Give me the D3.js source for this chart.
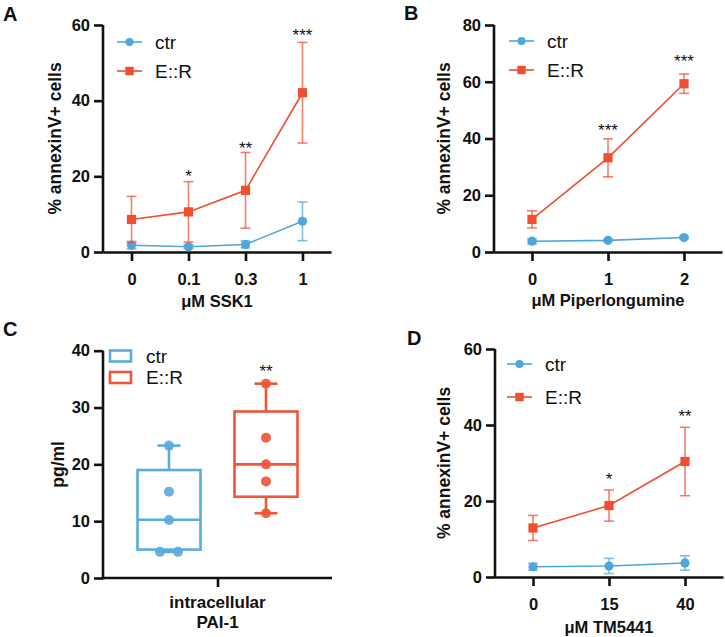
<!DOCTYPE html>
<html><head><meta charset="utf-8">
<script src="https://cdn.jsdelivr.net/npm/d3@7"></script>
<style>
body{margin:0;background:#fff;}
svg{display:block;font-family:"Liberation Sans",Arial,sans-serif;}
</style></head><body>
<svg id="chart" width="725" height="637"></svg>
<script>
// ---------- DATA ----------
const seriesNames = ["ctr", "E::R"];

// Panel A: SSK1
const catsA = ["0", "0.1", "0.3", "1"];
const ctrA = [1.8, 1.4, 2.0, 8.1];
const ctrErrA = [1.0, 0.5, 0.9, 5.1];
const erA = [8.6, 10.6, 16.3, 42.1];
const erErrA = [6.1, 8.0, 10.0, 13.3];
const starsA = ["", "*", "**", "***"];
const starYA = [0, 21.1, 28.5, 58.2];
const ticksA = [0, 20, 40, 60];

// Panel B: Piperlongumine
const catsB = ["0", "1", "2"];
const ctrB = [3.8, 4.1, 5.1];
const ctrErrB = [0.9, 0.4, 0.4];
const erB = [11.5, 33.2, 59.3];
const erErrB = [3.0, 6.7, 3.4];
const starsB = ["", "***", "***"];
const starYB = [0, 44.1, 68.4];
const ticksB = [0, 20, 40, 60, 80];

// Panel C: intracellular PAI-1 (box plots)
const groupC = ["intracellular", "PAI-1"];
const boxCtrC = {min: 4.6, q1: 5.0, median: 10.25, q3: 19.0, max: 23.3};
const boxErC = {min: 11.4, q1: 14.3, median: 20.0, q3: 29.3, max: 34.2};
const pointsCtrC = [23.3, 15.2, 10.2, 4.6, 4.6];
const pointsCtrOffsetC = [0, 0, 0, -0.45, 0.45];
const pointsErC = [34.2, 24.7, 20.0, 17.0, 11.4];
const starC = "**";
const starYC = 37.1;
const ticksC = [0, 10, 20, 30, 40];

// Panel D: TM5441
const catsD = ["0", "15", "40"];
const ctrD = [2.7, 2.9, 3.7];
const ctrErrD = [0.9, 2.0, 1.9];
const erD = [12.9, 18.8, 30.4];
const erErrD = [3.3, 4.1, 9.0];
const starsD = ["", "*", "**"];
const starYD = [0, 26.8, 43.4];
const ticksD = [0, 20, 40, 60];

// ---------- STYLE ----------
const BLUE = "#4fa6d8";
const RED = "#ef4e30";
const BLUE_BOX = "#5aacdb";
const RED_BOX = "#f0553a";

const svg = d3.select("#chart");

function styleAxis(g) {
  g.selectAll("path.domain").attr("stroke", "#111").attr("stroke-width", 2.6);
  g.selectAll(".tick line").attr("stroke", "#111").attr("stroke-width", 2.6);
  g.selectAll(".tick text").attr("fill", "#111").attr("font-size", 16.5)
    .attr("font-weight", "bold").attr("font-family", "Liberation Sans, Arial, sans-serif");
}

function letter(t, x, y) {
  svg.append("text").attr("x", x).attr("y", y).text(t)
    .attr("font-size", 20).attr("font-weight", "bold").attr("fill", "#111");
}

function yLabel(t, x, y) {
  svg.append("text").attr("transform", `translate(${x},${y}) rotate(-90)`)
    .attr("text-anchor", "middle").attr("dominant-baseline", "central")
    .attr("font-size", 17.5).attr("font-weight", "bold").attr("fill", "#111").text(t);
}

function linePanel(cfg) {
  const x = d3.scalePoint().domain(cfg.cats).range([cfg.x0, cfg.x1]).padding(0.5);
  const y = d3.scaleLinear().domain([0, cfg.ymax]).range([cfg.y0, cfg.y1]);
  const g = svg.append("g");

  // axes
  const ax = g.append("g").attr("transform", `translate(0,${cfg.y0})`)
    .call(d3.axisBottom(x).tickSize(9).tickSizeOuter(0).tickPadding(12));
  styleAxis(ax);
  const ay = g.append("g").attr("transform", `translate(${cfg.x0},0)`)
    .call(d3.axisLeft(y).tickValues(cfg.ticks).tickSize(9).tickSizeOuter(0).tickPadding(4));
  styleAxis(ay);
  ay.select("path.domain").attr("d", `M0,${cfg.y0 + 1.3}V${cfg.y1}`);

  const series = [
    {name: seriesNames[0], vals: cfg.ctr, errs: cfg.ctrErr, color: BLUE, shape: "circle"},
    {name: seriesNames[1], vals: cfg.er, errs: cfg.erErr, color: RED, shape: "square"}
  ];
  const line = d3.line().x((d, i) => x(cfg.cats[i])).y(d => y(d));
  series.forEach(s => {
    const sg = g.append("g");
    // error bars
    s.vals.forEach((v, i) => {
      const cx = x(cfg.cats[i]);
      const top = y(v + s.errs[i]), bot = y(Math.max(0, v - s.errs[i]));
      sg.append("line").attr("x1", cx).attr("x2", cx).attr("y1", top).attr("y2", bot)
        .attr("stroke", s.color).attr("stroke-width", 1.6).attr("opacity", 0.7);
      [top, bot].forEach(yy => sg.append("line").attr("x1", cx - 5).attr("x2", cx + 5)
        .attr("y1", yy).attr("y2", yy).attr("stroke", s.color).attr("stroke-width", 1.6).attr("opacity", 0.7));
    });
    sg.append("path").attr("d", line(s.vals)).attr("fill", "none")
      .attr("stroke", s.color).attr("stroke-width", 1.6);
    s.vals.forEach((v, i) => {
      const cx = x(cfg.cats[i]), cy = y(v);
      if (s.shape === "circle") sg.append("circle").attr("cx", cx).attr("cy", cy).attr("r", 4.6).attr("fill", s.color);
      else sg.append("rect").attr("x", cx - 4.6).attr("y", cy - 4.6).attr("width", 9.2).attr("height", 9.2).attr("fill", s.color);
    });
  });

  // stars
  cfg.stars.forEach((s, i) => {
    if (!s) return;
    g.append("text").attr("x", x(cfg.cats[i])).attr("y", y(cfg.starY[i]) + 9.5)
      .attr("text-anchor", "middle").attr("font-size", 17).attr("fill", "#111").text(s);
  });

  // legend
  series.forEach((s, k) => {
    const ly = cfg.legY[k];
    g.append("line").attr("x1", cfg.legX).attr("x2", cfg.legX + 25).attr("y1", ly).attr("y2", ly)
      .attr("stroke", s.color).attr("stroke-width", 1.6);
    const cx = cfg.legX + 12.5;
    if (s.shape === "circle") g.append("circle").attr("cx", cx).attr("cy", ly).attr("r", 4).attr("fill", s.color);
    else g.append("rect").attr("x", cx - 4.2).attr("y", ly - 4.2).attr("width", 8.4).attr("height", 8.4).attr("fill", s.color);
    g.append("text").attr("x", cfg.legX + 38).attr("y", ly).attr("dominant-baseline", "central")
      .attr("font-size", 19).attr("fill", "#111").text(s.name);
  });

  // titles
  g.append("text").attr("y", cfg.titleY)
    .attr("text-anchor", "middle").attr("font-size", 16.5).attr("font-weight", "bold").attr("fill", "#111")
    .text(cfg.title).attr("x", x(cfg.cats[0]) + (x(cfg.cats[cfg.cats.length - 1]) - x(cfg.cats[0])) / 2);
  yLabel(cfg.ylabel, cfg.ylabX, (cfg.y0 + cfg.y1) / 2);
}

linePanel({cats: catsA, ctr: ctrA, ctrErr: ctrErrA, er: erA, erErr: erErrA, stars: starsA, starY: starYA,
  ticks: ticksA, ymax: 60, x0: 103, x1: 331, y0: 252, y1: 25, legX: 117, legY: [42, 71],
  title: "μM SSK1", titleY: 307, ylabel: "% annexinV+ cells", ylabX: 55});

linePanel({cats: catsB, ctr: ctrB, ctrErr: ctrErrB, er: erB, erErr: erErrB, stars: starsB, starY: starYB,
  ticks: ticksB, ymax: 80, x0: 494, x1: 722, y0: 252, y1: 25, legX: 509, legY: [41, 70],
  title: "μM Piperlongumine", titleY: 306, ylabel: "% annexinV+ cells", ylabX: 444});

linePanel({cats: catsD, ctr: ctrD, ctrErr: ctrErrD, er: erD, erErr: erErrD, stars: starsD, starY: starYD,
  ticks: ticksD, ymax: 60, x0: 495, x1: 723, y0: 577, y1: 349, legX: 507, legY: [364, 397],
  title: "μM TM5441", titleY: 633, ylabel: "% annexinV+ cells", ylabX: 444});

// ---------- Panel C ----------
(function () {
  const x0 = 103, x1 = 332, y0 = 578, y1 = 350.7;
  const y = d3.scaleLinear().domain([0, 40]).range([y0, y1]);
  const g = svg.append("g");
  const ay = g.append("g").attr("transform", `translate(${x0},0)`)
    .call(d3.axisLeft(y).tickValues(ticksC).tickSize(9).tickSizeOuter(0).tickPadding(4));
  styleAxis(ay);
  ay.select("path.domain").attr("d", `M0,${y0 + 1.3}V${y1}`);
  const xs = d3.scalePoint().domain([groupC.join(" ")]).range([x0, x1]).padding(0.5);
  const ax = g.append("g").attr("transform", `translate(0,${y0})`)
    .call(d3.axisBottom(xs).tickSize(9).tickSizeOuter(0).tickFormat(""));
  styleAxis(ax);
  ax.select("path.domain").attr("d", `M${x0},0H${x1}`);

  const boxes = [
    {box: boxCtrC, pts: pointsCtrC, off: pointsCtrOffsetC, color: BLUE_BOX, cx: 169},
    {box: boxErC, pts: pointsErC, off: pointsErC.map(() => 0), color: RED_BOX, cx: 266}
  ];
  const bw = 63, cw = 23;
  boxes.forEach(b => {
    const s = b.box, cx = b.cx;
    const bg = g.append("g").attr("stroke", b.color).attr("stroke-width", 2.6).attr("fill", "none");
    bg.append("line").attr("x1", cx).attr("x2", cx).attr("y1", y(s.max)).attr("y2", y(s.q3));
    bg.append("line").attr("x1", cx).attr("x2", cx).attr("y1", y(s.q1)).attr("y2", y(s.min));
    bg.append("line").attr("x1", cx - cw / 2).attr("x2", cx + cw / 2).attr("y1", y(s.max)).attr("y2", y(s.max));
    bg.append("line").attr("x1", cx - cw / 2).attr("x2", cx + cw / 2).attr("y1", y(s.min)).attr("y2", y(s.min));
    bg.append("rect").attr("x", cx - bw / 2).attr("y", y(s.q3)).attr("width", bw).attr("height", y(s.q1) - y(s.q3));
    bg.append("line").attr("x1", cx - bw / 2).attr("x2", cx + bw / 2).attr("y1", y(s.median)).attr("y2", y(s.median));
    b.pts.forEach((p, i) => {
      g.append("circle").attr("cx", cx + b.off[i] * 20).attr("cy", y(p)).attr("r", 5)
        .attr("fill", b.color).attr("opacity", 0.92);
    });
  });
  g.append("text").attr("x", 266).attr("y", y(starYC) + 9.5).attr("text-anchor", "middle")
    .attr("font-size", 17).attr("fill", "#111").text(starC);

  // legend
  [[BLUE_BOX, 356], [RED_BOX, 377.5]].forEach((c, k) => {
    g.append("rect").attr("x", 110).attr("y", c[1] - 5.5).attr("width", 21).attr("height", 11)
      .attr("fill", "none").attr("stroke", c[0]).attr("stroke-width", 2.6);
    g.append("text").attr("x", 146).attr("y", c[1]).attr("dominant-baseline", "central")
      .attr("font-size", 19).attr("fill", "#111").text(seriesNames[k]);
  });
  // x labels
  groupC.forEach((t, k) => {
    g.append("text").attr("x", xs(groupC.join(" "))).attr("y", 608 + k * 20).attr("text-anchor", "middle")
      .attr("font-size", 17).attr("font-weight", "bold").attr("fill", "#111").text(t);
  });
  yLabel("pg/ml", 58, (y0 + y1) / 2);
})();

letter("A", 3, 21);
letter("B", 404, 20);
letter("C", 3, 336);
letter("D", 407, 345);
</script></body></html>
